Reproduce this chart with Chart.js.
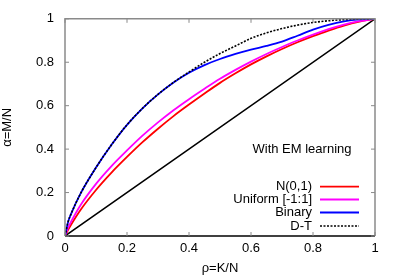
<!DOCTYPE html>
<html>
<head>
<meta charset="utf-8">
<script src="https://cdn.jsdelivr.net/npm/chart.js@4.4.1/dist/chart.umd.min.js"></script>
<style>
  html, body { margin: 0; padding: 0; background: #fff; }
  #wrap { width: 399px; height: 279px; }
</style>
</head>
<body>
<div id="wrap"><canvas id="phaseChart" width="399" height="279"></canvas></div>
<script>
// valores (rho = K/N, alpha = M/N)
const rhoGrid = [0, 0.01, 0.02, 0.05, 0.1, 0.15, 0.2, 0.25, 0.3, 0.35, 0.4, 0.45, 0.5, 0.55, 0.6, 0.65, 0.7, 0.75, 0.8, 0.85, 0.9, 0.95, 1];
const alphaGauss   = [0, 0.028, 0.053, 0.12, 0.212, 0.292, 0.364, 0.432, 0.494, 0.552, 0.605, 0.656, 0.705, 0.749, 0.79, 0.827, 0.861, 0.892, 0.92, 0.946, 0.969, 0.987, 1];
const alphaUniform = [0, 0.038, 0.067, 0.142, 0.24, 0.322, 0.394, 0.462, 0.523, 0.579, 0.63, 0.678, 0.724, 0.765, 0.803, 0.838, 0.87, 0.9, 0.927, 0.952, 0.973, 0.989, 1];
const alphaBinary  = [0, 0.065, 0.103, 0.195, 0.315, 0.42, 0.512, 0.588, 0.652, 0.707, 0.752, 0.787, 0.815, 0.838, 0.858, 0.875, 0.895, 0.922, 0.95, 0.972, 0.988, 0.997, 1];
const alphaDT      = [0, 0.065, 0.103, 0.195, 0.315, 0.42, 0.512, 0.588, 0.652, 0.707, 0.755, 0.8, 0.84, 0.875, 0.91, 0.935, 0.955, 0.971, 0.983, 0.991, 0.996, 0.999, 1];
const diagRho   = [0, 1];
const diagAlpha = [0, 1];

const tickValues = [0, 0.2, 0.4, 0.6, 0.8, 1];
const seriesLabels = ['N(0,1)', 'Uniform [-1:1]', 'Binary', 'D-T'];
const annotationText = 'With EM learning';

const FONT = '"Liberation Sans", Arial, Helvetica, sans-serif';

function toPoints(xs, ys) {
  return xs.map((x, i) => ({ x: x, y: ys[i] }));
}

// moldura estilo gnuplot + ticks espelhados + legenda no canto
const gnuplotFrame = {
  id: 'gnuplotFrame',
  afterDatasetsDraw(chart) {
    const { ctx, chartArea: a, scales } = chart;
    const tl = 4;
    ctx.save();
    ctx.lineWidth = 1.5;
    ctx.strokeStyle = '#8a8a8a';
    ctx.beginPath();
    ctx.moveTo(a.left, a.bottom);
    ctx.lineTo(a.left, a.top);
    ctx.lineTo(a.right, a.top);
    ctx.lineTo(a.right, a.bottom);
    ctx.stroke();
    ctx.strokeStyle = '#000';
    ctx.beginPath();
    ctx.moveTo(a.left, a.bottom);
    ctx.lineTo(a.right, a.bottom);
    ctx.stroke();

    ctx.lineWidth = 1;
    ctx.strokeStyle = '#8a8a8a';
    tickValues.forEach(v => {
      const px = scales.x.getPixelForValue(v);
      const py = scales.y.getPixelForValue(v);
      ctx.beginPath();
      ctx.moveTo(px, a.bottom); ctx.lineTo(px, a.bottom - tl);
      ctx.moveTo(px, a.top); ctx.lineTo(px, a.top + tl);
      ctx.moveTo(a.left, py); ctx.lineTo(a.left + tl, py);
      ctx.moveTo(a.right, py); ctx.lineTo(a.right - tl, py);
      ctx.stroke();
    });

    ctx.fillStyle = '#000';
    ctx.font = '13px ' + FONT;
    ctx.textBaseline = 'middle';
    ctx.textAlign = 'center';
    ctx.fillText(annotationText, 302, 149.5);

    // legenda: texto alinhado à direita, amostra de linha à direita
    const rows = [186.7, 199.5, 212.5, 226];
    const ds = chart.data.datasets;
    seriesLabels.forEach((lbl, i) => {
      const d = ds.find(s => s.label === lbl);
      ctx.textAlign = 'right';
      ctx.fillStyle = '#000';
      ctx.fillText(lbl, 312, rows[i]);
      ctx.beginPath();
      ctx.lineWidth = d.borderWidth;
      ctx.strokeStyle = d.borderColor;
      ctx.setLineDash(d.borderDash || []);
      ctx.moveTo(320, rows[i]);
      ctx.lineTo(359, rows[i]);
      ctx.stroke();
      ctx.setLineDash([]);
    });
    ctx.restore();
  }
};

const lineDefaults = {
  showLine: true,
  pointRadius: 0,
  pointHoverRadius: 0,
  fill: false,
  tension: 0.4,
  cubicInterpolationMode: 'monotone'
};

const ctx = document.getElementById('phaseChart').getContext('2d');
const phaseChart = new Chart(ctx, {
  type: 'scatter',
  data: {
    datasets: [
      Object.assign({}, lineDefaults, {
        label: 'D-T',
        data: toPoints(rhoGrid, alphaDT),
        borderColor: '#000000',
        borderWidth: 1.6,
        borderDash: [2, 1.5],
        order: 0
      }),
      Object.assign({}, lineDefaults, {
        label: 'Binary',
        data: toPoints(rhoGrid, alphaBinary),
        borderColor: '#0000ff',
        borderWidth: 1.8,
        order: 1
      }),
      Object.assign({}, lineDefaults, {
        label: 'Uniform [-1:1]',
        data: toPoints(rhoGrid, alphaUniform),
        borderColor: '#ff00ff',
        borderWidth: 1.8,
        order: 2
      }),
      Object.assign({}, lineDefaults, {
        label: 'N(0,1)',
        data: toPoints(rhoGrid, alphaGauss),
        borderColor: '#ff0000',
        borderWidth: 1.8,
        order: 3
      }),
      Object.assign({}, lineDefaults, {
        label: 'diagonal',
        data: toPoints(diagRho, diagAlpha),
        borderColor: '#000000',
        borderWidth: 1.5,
        tension: 0,
        order: 4
      })
    ]
  },
  options: {
    responsive: false,
    animation: false,
    devicePixelRatio: 1,
    layout: { padding: { left: 0, right: 24, top: 16, bottom: 0 } },
    plugins: {
      legend: { display: false },
      tooltip: { enabled: false }
    },
    scales: {
      x: {
        type: 'linear',
        min: 0,
        max: 1,
        afterBuildTicks: (scale) => { scale.ticks = tickValues.map(v => ({ value: v })); },
        afterFit: (scale) => { scale.height = 43; },
        grid: { display: false, drawTicks: false },
        border: { display: false },
        ticks: {
          padding: 5,
          color: '#000',
          font: { family: FONT, size: 13 },
          maxRotation: 0,
          callback: (v) => String(v)
        },
        title: {
          display: true,
          text: 'ρ=K/N',
          color: '#000',
          font: { family: FONT, size: 13 },
          padding: { top: 0, bottom: 3 }
        }
      },
      y: {
        type: 'linear',
        min: 0,
        max: 1,
        afterBuildTicks: (scale) => { scale.ticks = tickValues.map(v => ({ value: v })); },
        afterFit: (scale) => { scale.width = 65; },
        grid: { display: false, drawTicks: false },
        border: { display: false },
        ticks: {
          padding: 11,
          color: '#000',
          font: { family: FONT, size: 13 },
          callback: (v) => String(v)
        },
        title: {
          display: true,
          text: 'α=M/N',
          color: '#000',
          font: { family: FONT, size: 13 },
          padding: { top: 0, bottom: 0 }
        }
      }
    }
  },
  plugins: [gnuplotFrame]
});
</script>
</body>
</html>
